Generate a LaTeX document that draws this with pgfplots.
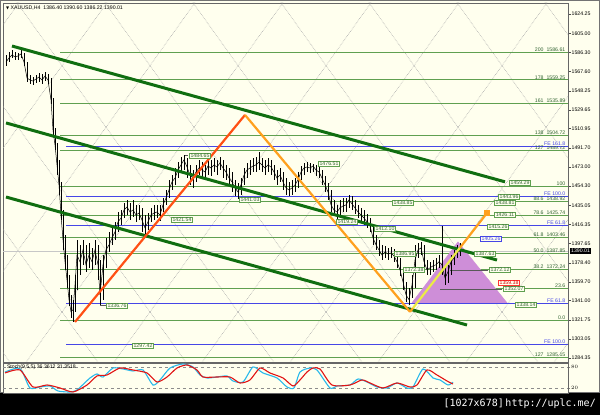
\documentclass[border=0pt]{standalone}
\usepackage{pgfplots}
\pgfplotsset{compat=1.18}
\usepackage{pgfplotstable}
\usepackage{fontspec}
\setmainfont{Liberation Sans}
\newfontfamily\dejavu{DejaVu Sans}
\newfontfamily\monof{DejaVu Sans Mono}
\definecolor{bgc}{RGB}{255,255,238}
\definecolor{fibg}{RGB}{96,160,80}
\definecolor{feblue}{RGB}{70,70,230}
\definecolor{chan}{RGB}{16,110,16}
\definecolor{ored}{RGB}{255,80,20}
\definecolor{orng}{RGB}{255,160,30}
\definecolor{ylw}{RGB}{235,235,70}
\definecolor{tri}{RGB}{206,142,216}
\definecolor{gann}{RGB}{170,170,170}
\definecolor{lbltxt}{RGB}{50,100,50}
\definecolor{stblue}{RGB}{40,185,235}
\definecolor{stred}{RGB}{225,20,20}
\newcommand{\lbl}{\fontsize{5.2}{6}\selectfont}
\tikzset{
  gg/.style={gann, densely dotted, line width=0.6pt},
  fl/.style={fibg, line width=0.6pt},
  fe/.style={feblue, line width=0.6pt},
  flab/.style={anchor=south east, font=\lbl, text=lbltxt, inner sep=0.5pt},
  felab/.style={anchor=south east, font=\lbl, text=feblue, inner sep=0.5pt},
  pb/.style={draw=fibg, fill=bgc, text=lbltxt, font=\lbl, inner xsep=1.2pt, inner ysep=0.6pt, line width=0.5pt},
}

\pgfplotstableread{
x c h l
6 1576.8 1583.8 1572.8
9 1580.8 1586.8 1576.8
12 1583.8 1588.8 1580.8
15 1581.8 1586.8 1578.8
18 1582.8 1585.8 1578.8
21 1584.8 1588.8 1580.8
24 1576.8 1585.8 1572.8
27 1561.0 1576.8 1557.0
30 1559.0 1564.0 1555.0
33 1558.0 1562.0 1554.0
36 1560.0 1564.0 1556.0
39 1562.0 1566.0 1557.0
42 1559.0 1565.0 1555.0
45 1563.0 1567.0 1558.0
48 1559.0 1565.0 1555.0
51 1539.3 1561.0 1535.3
53 1509.6 1541.3 1504.6
55 1494.9 1511.6 1489.9
57 1475.1 1496.9 1465.1
59 1455.4 1480.1 1445.4
61 1425.6 1458.4 1420.6
63 1401.1 1430.6 1391.1
65 1379.4 1405.9 1371.4
67 1361.4 1386.1 1353.6
69 1341.9 1366.4 1335.9
71 1329.9 1346.6 1323.9
73 1331.9 1341.9 1319.9
75 1356.6 1366.4 1329.9
77 1386.1 1401.1 1351.6
80 1379.4 1396.1 1366.4
83 1391.1 1401.1 1376.4
86 1376.4 1396.1 1369.4
89 1386.1 1398.1 1373.4
92 1379.4 1393.1 1371.4
95 1391.1 1401.1 1376.4
98 1376.4 1396.1 1361.4
100 1346.6 1381.1 1336.9
103 1376.4 1386.1 1341.9
106 1391.1 1402.9 1373.4
109 1396.1 1408.9 1389.1
112 1402.9 1415.9 1396.1
115 1408.9 1418.9 1401.1
118 1418.9 1428.6 1408.9
121 1422.6 1430.6 1415.9
124 1430.6 1437.6 1422.6
127 1433.6 1440.6 1425.6
130 1428.6 1437.6 1420.6
133 1430.6 1440.6 1423.6
136 1425.6 1435.6 1418.9
139 1427.6 1435.6 1420.6
142 1420.6 1432.6 1408.9
145 1412.9 1425.6 1405.9
148 1418.9 1427.6 1410.9
151 1425.6 1432.6 1418.9
154 1427.6 1435.6 1420.6
157 1428.6 1435.6 1422.6
160 1425.6 1435.6 1419.9
163 1435.6 1442.4 1428.6
166 1442.4 1450.4 1435.6
169 1450.4 1460.4 1442.4
172 1458.4 1465.1 1450.4
175 1462.1 1472.1 1455.4
178 1470.1 1478.1 1462.1
181 1475.1 1483.1 1468.1
184 1480.1 1485.1 1470.1
187 1473.1 1482.1 1462.1
190 1465.1 1475.1 1455.4
193 1462.1 1470.1 1452.4
196 1468.1 1475.1 1458.4
199 1472.1 1480.1 1465.1
202 1470.1 1478.1 1462.1
205 1468.1 1475.1 1460.1
208 1474.1 1480.1 1465.1
211 1472.1 1480.1 1464.1
214 1475.1 1482.1 1468.1
217 1473.1 1480.1 1465.1
220 1477.1 1483.1 1470.1
223 1472.1 1480.1 1462.1
226 1468.1 1475.1 1460.1
229 1462.1 1472.1 1454.4
232 1458.4 1468.1 1448.4
235 1452.4 1460.4 1444.4
238 1448.4 1457.4 1441.4
241 1455.4 1462.1 1445.4
244 1465.1 1472.1 1455.4
247 1470.1 1477.1 1462.1
250 1472.1 1480.1 1465.1
253 1474.1 1482.1 1468.1
256 1475.1 1483.1 1468.1
259 1478.1 1487.9 1470.1
262 1475.1 1482.1 1468.1
265 1472.1 1480.1 1465.1
268 1475.1 1482.1 1468.1
271 1473.1 1480.1 1465.1
274 1468.1 1475.1 1460.1
277 1462.1 1470.1 1455.4
280 1465.1 1472.1 1458.4
283 1458.4 1468.1 1450.4
286 1452.4 1462.1 1445.4
289 1450.4 1458.4 1444.4
292 1452.4 1460.4 1445.4
295 1455.4 1462.1 1448.4
298 1460.4 1468.1 1452.4
301 1468.1 1474.1 1460.1
304 1472.1 1477.1 1465.1
307 1473.1 1478.1 1468.1
310 1472.1 1477.1 1467.1
313 1474.1 1476.1 1468.1
316 1470.1 1475.1 1464.1
319 1468.1 1474.1 1462.1
322 1462.1 1470.1 1455.4
325 1455.4 1464.1 1448.4
328 1448.4 1457.4 1440.4
331 1435.6 1450.4 1428.6
334 1430.6 1440.6 1424.6
337 1428.6 1435.6 1419.9
340 1432.6 1440.6 1425.6
343 1434.6 1442.4 1428.6
346 1435.6 1442.4 1428.6
349 1440.6 1445.4 1432.6
352 1436.6 1444.4 1430.6
355 1432.6 1440.6 1426.6
358 1428.6 1435.6 1422.6
361 1425.6 1432.6 1418.9
364 1422.6 1430.6 1415.9
367 1418.9 1426.6 1412.9
370 1414.9 1422.6 1408.9
373 1402.9 1415.9 1396.1
376 1396.1 1405.9 1391.1
379 1391.1 1401.1 1385.1
382 1386.1 1396.1 1381.1
385 1389.1 1395.1 1383.1
388 1387.1 1393.1 1381.1
391 1388.1 1394.1 1383.1
394 1385.1 1392.1 1379.4
397 1379.4 1389.1 1373.4
400 1371.4 1383.1 1365.4
403 1359.6 1373.4 1351.6
406 1346.6 1359.6 1339.6
409 1341.9 1353.6 1336.9
412 1356.6 1366.4 1343.6
415 1381.1 1396.1 1353.6
418 1391.1 1398.1 1383.1
421 1393.1 1399.1 1386.1
424 1379.4 1396.1 1373.4
427 1371.4 1381.1 1366.4
430 1373.4 1379.4 1366.4
433 1375.4 1381.1 1369.4
436 1376.4 1383.1 1371.4
439 1379.4 1386.1 1373.4
442 1376.4 1414.9 1366.4
445 1363.4 1376.4 1356.6
448 1369.4 1376.4 1358.6
451 1379.4 1386.1 1366.4
454 1383.1 1391.1 1376.4
457 1389.1 1396.1 1383.1
460 1390.0 1398.1 1385.1
}\price

\pgfplotstableread{
x v
5 65.7
17 77.1
22 68.6
30 20.0
40 22.9
50 25.7
58 11.4
70 8.6
77 14.3
90 48.6
97 60.0
103 51.4
113 77.1
123 74.3
133 68.6
143 71.4
153 28.6
160 42.9
170 77.1
183 88.6
193 80.0
200 57.1
207 48.6
217 51.4
227 54.3
233 40.0
243 37.1
253 80.0
263 62.9
277 48.6
287 22.9
294 20.0
300 65.7
310 77.1
317 71.4
330 20.0
337 25.7
350 28.6
358 45.7
367 37.1
377 22.9
387 20.0
397 34.3
407 20.0
413 22.9
423 74.3
433 48.6
440 42.9
448 28.6
453 36.4
}\stochmain

\pgfplotstableread{
x v
5 62.9
20 71.4
33 22.9
47 28.6
60 20.0
73 8.6
87 28.6
97 54.3
107 57.1
120 77.1
133 71.4
147 62.9
157 37.1
167 51.4
177 77.1
187 85.7
197 71.4
203 51.4
217 51.4
230 51.4
240 34.3
250 42.9
260 77.1
270 62.9
283 48.6
293 25.7
300 42.9
307 65.7
313 77.1
320 74.3
332 28.6
350 28.6
362 42.9
370 34.3
383 20.0
397 34.3
410 22.9
417 28.6
427 71.4
437 57.1
447 40.0
453 31.4
}\stochsig

\begin{document}
\begin{tikzpicture}
\fill[bgc] (0pt,0pt) rectangle (600pt,415pt);
\fill[black] (0pt,0pt) rectangle (600pt,22pt);
\draw[black!55, line width=1pt] (0.5pt,22.5pt) rectangle (599.5pt,414.5pt);
\node[anchor=east, text=white, inner sep=0pt, font=\monof\fontsize{10}{12}\selectfont] at (596pt,11pt) {[1027x678]\,http://uplc.me/};

\begin{axis}[
  at={(3pt,53pt)}, anchor=south west, scale only axis,
  width=565pt, height=359pt,
  xmin=3, xmax=568, ymin=1280.36, ymax=1635.12,
  axis line style={black!60, line width=0.6pt},
  axis background/.style={fill=bgc},
  xtick=\empty,
  ytick={1624.25,1605.00,1586.30,1567.60,1548.25,1529.65,1510.95,1491.70,1473.00,1454.30,1435.05,1416.35,1397.65,1378.40,1359.70,1341.00,1321.75,1303.05,1284.35},
  yticklabels={1624.25,1605.00,1586.30,1567.60,1548.25,1529.65,1510.95,1491.70,1473.00,1454.30,1435.05,1416.35,1397.65,1378.40,1359.70,1341.00,1321.75,1303.05,1284.35},
  ytick pos=right, yticklabel pos=right,
  tick align=outside,
  major tick length=2.5pt,
  ytick style={draw=black!70, line width=0.4pt},
  yticklabel style={font=\lbl, text=black, inner sep=1pt},
]
% Gann grid (down-right family)
\addplot[gg] coordinates {(-248.9,1638.1) (10.1,1279.9)};
\addplot[gg] coordinates {(-160.9,1638.1) (98.1,1279.9)};
\addplot[gg] coordinates {(-72.9,1638.1) (186.1,1279.9)};
\addplot[gg] coordinates {(15.1,1638.1) (274.1,1279.9)};
\addplot[gg] coordinates {(103.1,1638.1) (362.1,1279.9)};
\addplot[gg] coordinates {(191.1,1638.1) (450.1,1279.9)};
\addplot[gg] coordinates {(279.1,1638.1) (538.1,1279.9)};
\addplot[gg] coordinates {(367.1,1638.1) (626.1,1279.9)};
\addplot[gg] coordinates {(455.1,1638.1) (714.1,1279.9)};
\addplot[gg] coordinates {(543.1,1638.1) (802.1,1279.9)};
% Gann grid (up-right family)
\addplot[gg] coordinates {(-238.1,1279.9) (20.9,1638.1)};
\addplot[gg] coordinates {(-150.1,1279.9) (108.9,1638.1)};
\addplot[gg] coordinates {(-62.1,1279.9) (196.9,1638.1)};
\addplot[gg] coordinates {(25.9,1279.9) (284.9,1638.1)};
\addplot[gg] coordinates {(113.9,1279.9) (372.9,1638.1)};
\addplot[gg] coordinates {(201.9,1279.9) (460.9,1638.1)};
\addplot[gg] coordinates {(289.9,1279.9) (548.9,1638.1)};
\addplot[gg] coordinates {(377.9,1279.9) (636.9,1638.1)};
\addplot[gg] coordinates {(465.9,1279.9) (724.9,1638.1)};
\addplot[gg] coordinates {(553.9,1279.9) (812.9,1638.1)};
% current price line
\addplot[black!22, line width=0.5pt] coordinates {(3,1390.01) (568,1390.01)};
% Fibonacci levels
\addplot[fl] coordinates {(60,1586.61) (568,1586.61)};
\addplot[fl] coordinates {(60,1559.25) (568,1559.25)};
\addplot[fl] coordinates {(60,1535.89) (568,1535.89)};
\addplot[fl] coordinates {(60,1504.72) (568,1504.72)};
\addplot[fl] coordinates {(60,1489.72) (568,1489.72)};
\addplot[fl] coordinates {(60,1454.30) (568,1454.30)};
\addplot[fl] coordinates {(60,1438.92) (568,1438.92)};
\addplot[fl] coordinates {(60,1425.74) (568,1425.74)};
\addplot[fl] coordinates {(60,1403.46) (568,1403.46)};
\addplot[fl] coordinates {(60,1387.85) (568,1387.85)};
\addplot[fl] coordinates {(60,1372.24) (568,1372.24)};
\addplot[fl] coordinates {(60,1352.93) (568,1352.93)};
\addplot[fl] coordinates {(60,1321.75) (568,1321.75)};
\addplot[fl] coordinates {(60,1285.15) (568,1285.15)};
\addplot[fe] coordinates {(66,1493.80) (568,1493.80)};
\addplot[fe] coordinates {(66,1443.96) (568,1443.96)};
\addplot[fe] coordinates {(66,1415.26) (568,1415.26)};
\addplot[fe] coordinates {(66,1338.14) (568,1338.14)};
\addplot[fe] coordinates {(66,1297.42) (568,1297.42)};
% triangle
\addplot[fill=tri, draw=tri] coordinates {(412,1338.9) (458,1399.1) (507,1338.9)} -- cycle;
% price-label lines
\addplot[black!65, line width=0.5pt] coordinates {(450,1371.4) (488,1371.4)};
\addplot[black!65, line width=0.5pt] coordinates {(440,1352.6) (502,1352.6)};
\addplot[black!65, line width=0.5pt] coordinates {(100,1336.2) (106,1336.2)};
\addplot[black!65, line width=0.5pt] coordinates {(184,1484.6) (188,1484.6)};
% candles (high-low ranges) and closes
\addplot[draw=none, mark=none, error bars/.cd, y dir=both, y explicit, error mark=none,
  error bar style={draw=black, solid, line width=0.5pt}]
  table[x=x, y=c, y error plus expr=\thisrow{h}-\thisrow{c}, y error minus expr=\thisrow{c}-\thisrow{l}] {\price};
\addplot[black, line width=0.5pt, mark=none] table[x=x, y=c] {\price};
% channel
\addplot[chan, line width=3pt] coordinates {(12,1592.6) (505,1458.4)};
\addplot[chan, line width=3pt] coordinates {(6,1516.6) (497,1381.1)};
\addplot[chan, line width=3pt] coordinates {(6,1443.4) (467,1316.9)};
% zigzag
\addplot[ored, line width=2.2pt] coordinates {(75,1319.9) (245,1524.5)};
\addplot[orng, line width=2.2pt] coordinates {(245,1524.5) (410,1329.9)};
\addplot[orng, line width=2.2pt] coordinates {(410,1329.9) (413,1333.7)};
\addplot[ylw, line width=2.2pt] coordinates {(413,1333.7) (460,1393.3)};
\addplot[orng, line width=2.2pt, mark=square*, mark size=1.6pt, mark options={fill=orng}, mark indices={2}] coordinates {(460,1393.3) (487,1427.6)};
% right-hand level labels
\node[flab] at (axis cs:566,1586.61) {200\ \ 1586.61};
\node[flab] at (axis cs:566,1559.25) {178\ \ 1559.25};
\node[flab] at (axis cs:566,1535.89) {161\ \ 1535.89};
\node[flab] at (axis cs:566,1504.72) {138\ \ 1504.72};
\node[flab] at (axis cs:566,1489.72) {127\ \ 1489.72};
\node[felab, fill=bgc] at (axis cs:566,1493.80) {FE 161.8};
\node[flab] at (axis cs:566,1454.30) {100};
\node[felab] at (axis cs:566,1443.96) {FE 100.0};
\node[flab] at (axis cs:566,1438.92) {88.6\ \ 1438.92};
\node[flab] at (axis cs:566,1425.74) {78.6\ \ 1425.74};
\node[felab] at (axis cs:566,1415.26) {FE 61.8};
\node[flab] at (axis cs:566,1403.46) {61.8\ \ 1403.46};
\node[flab] at (axis cs:566,1387.85) {50.0\ \ 1387.85};
\node[flab] at (axis cs:566,1372.24) {38.2\ \ 1372.24};
\node[flab] at (axis cs:566,1352.93) {23.6};
\node[felab] at (axis cs:566,1338.14) {FE 61.8};
\node[flab] at (axis cs:566,1321.75) {0.0};
\node[felab] at (axis cs:566,1297.42) {FE 100.0};
\node[flab] at (axis cs:566,1285.15) {127\ \ 1285.15};
% price label boxes
\node[pb] at (axis cs:200,1483.9) {1484.65};
\node[pb] at (axis cs:329,1476.1) {1476.51};
\node[pb] at (axis cs:250,1440.5) {1441.03};
\node[pb] at (axis cs:182,1420.7) {1421.54};
\node[pb] at (axis cs:347,1418.7) {1419.24};
\node[pb] at (axis cs:385,1411.8) {1412.10};
\node[pb] at (axis cs:403,1437.5) {1438.85};
\node[pb] at (axis cs:405,1387.1) {1386.95};
\node[pb] at (axis cs:414,1371.4) {1372.38};
\node[pb] at (axis cs:117,1335.9) {1336.76};
\node[pb] at (axis cs:143,1296.2) {1297.42};
\node[pb] at (axis cs:520,1457.4) {1459.29};
\node[pb] at (axis cs:509,1443.4) {1443.96};
\node[pb] at (axis cs:505,1437.5) {1438.81};
\node[pb] at (axis cs:505,1425.6) {1426.11};
\node[pb] at (axis cs:498,1413.9) {1415.26};
\node[pb, draw=feblue, text=feblue] at (axis cs:491,1402.1) {1405.26};
\node[pb] at (axis cs:485,1387.1) {1387.63};
\node[pb] at (axis cs:500,1371.4) {1372.12};
\node[pb, draw=red!80, text=red!85!black] at (axis cs:509,1358.6) {1359.38};
\node[pb] at (axis cs:514,1352.6) {1352.07};
\node[pb] at (axis cs:526,1336.9) {1338.14};
\end{axis}

% header
\node[anchor=west, inner sep=0pt, font=\lbl] at (6pt,407pt) {{\dejavu\fontsize{4}{4}\selectfont ▼}\ XAUUSD,H4\ \ 1386.40\ 1390.60\ 1386.22\ 1390.01};
% current price box
\node[fill=black, text=white, font=\lbl, inner xsep=1pt, inner ysep=0.8pt, anchor=west] at (570pt,164pt) {1390.01};

\begin{axis}[
  at={(3pt,22pt)}, anchor=south west, scale only axis,
  width=565pt, height=30pt,
  xmin=3, xmax=568, ymin=5.7, ymax=91.4,
  axis line style={black!60, line width=0.6pt},
  axis background/.style={fill=bgc},
  xtick=\empty,
  ytick={20,80}, ytick pos=right, yticklabel pos=right,
  tick align=outside, major tick length=2pt,
  yticklabel style={font=\lbl, text=black, inner sep=1pt},
]
\addplot[black!45, dashed, line width=0.5pt] coordinates {(3,80) (568,80)};
\addplot[black!45, dashed, line width=0.5pt] coordinates {(3,20) (568,20)};
\addplot[stblue, line width=1.1pt, smooth, tension=0.4] table[x=x, y=v] {\stochmain};
\addplot[stred, line width=1.1pt, smooth, tension=0.4] table[x=x, y=v] {\stochsig};
\node[anchor=north west, font=\lbl, inner sep=1pt] at (rel axis cs:0.005,0.97) {Stoch(9,5,5) 36.3612 31.3518};
\end{axis}
\end{tikzpicture}
\end{document}
